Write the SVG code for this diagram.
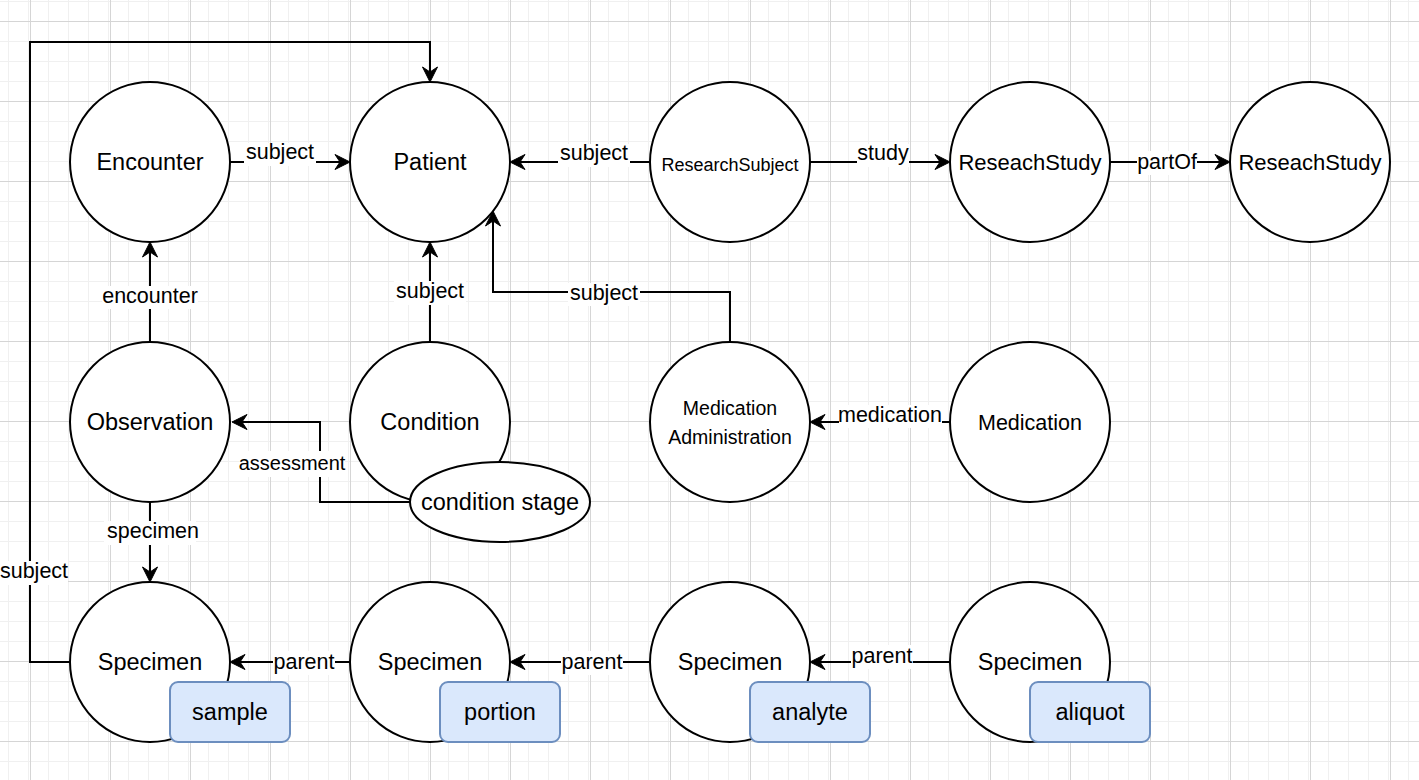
<svg xmlns="http://www.w3.org/2000/svg" width="1419" height="780" viewBox="0 0 1419 780">
  <style>
    .node { fill: #ffffff; stroke: #000000; stroke-width: 2; }
    .badge { fill: #dae8fc; stroke: #6c8ebf; stroke-width: 2; }
    .edge { fill: none; stroke: #000000; stroke-width: 2; marker-end: url(#arrow); }
    .lbl { font-family: "Liberation Sans", Arial, Helvetica, sans-serif; fill: #000000; text-anchor: middle; }
    .nl { font-size: 23.5px; }
    .el { font-size: 21.5px; }
    .bg { fill: #ffffff; }
  </style>
  <defs>
    <pattern id="minor" x="8" y="1" width="20" height="20" patternUnits="userSpaceOnUse">
      <rect x="0" y="0" width="1" height="20" fill="#f0f0f0"/>
      <rect x="0" y="0" width="20" height="1" fill="#f0f0f0"/>
    </pattern>
    <pattern id="major" x="30" y="21" width="80" height="80" patternUnits="userSpaceOnUse">
      <rect x="0" y="0" width="1" height="80" fill="#d5d5d5"/>
      <rect x="0" y="0" width="80" height="1" fill="#d5d5d5"/>
    </pattern>
    <marker id="arrow" viewBox="-16 -9 18 18" refX="-10" refY="0" markerWidth="18" markerHeight="18" markerUnits="userSpaceOnUse" orient="auto">
      <path d="M0,0 L-15,-7.5 L-10,0 L-15,7.5 Z" fill="#000000" stroke="#000000" stroke-width="1" stroke-linejoin="miter"/>
    </marker>
  </defs>

  <rect x="0" y="0" width="1419" height="780" fill="#ffffff"/>
  <rect x="0" y="0" width="1419" height="780" fill="url(#minor)"/>
  <rect x="0" y="0" width="1419" height="780" fill="url(#major)"/>

  <g id="connectors">
    <path class="edge" d="M230,162 H340"/>
    <path class="edge" d="M650,162 H520"/>
    <path class="edge" d="M810,162 H940"/>
    <path class="edge" d="M1110,162 H1220"/>
    <path class="edge" d="M150,342 V252"/>
    <path class="edge" d="M430,342 V252"/>
    <path class="edge" d="M730,342 V292 H493 V221"/>
    <path class="edge" d="M950,422 H820"/>
    <path class="edge" d="M410,502 H320 V422 H242"/>
    <path class="edge" d="M150,502 V572"/>
    <path class="edge" d="M70,662 H30 V42 H430 V72"/>
    <path class="edge" d="M350,662 H240"/>
    <path class="edge" d="M650,662 H520"/>
    <path class="edge" d="M950,662 H820"/>

    <rect class="bg" x="244" y="143" width="72" height="23"/>
    <text class="lbl el" x="280" y="159">subject</text>
    <rect class="bg" x="558" y="144" width="72" height="23"/>
    <text class="lbl el" x="594" y="160">subject</text>
    <rect class="bg" x="857" y="144" width="52" height="23"/>
    <text class="lbl el" x="883" y="160">study</text>
    <rect class="bg" x="1137" y="151" width="60" height="24"/>
    <text class="lbl el" x="1167" y="169">partOf</text>
    <rect class="bg" x="102" y="286" width="96" height="23"/>
    <text class="lbl el" x="150" y="303">encounter</text>
    <rect class="bg" x="394" y="281" width="72" height="24"/>
    <text class="lbl el" x="430" y="298">subject</text>
    <rect class="bg" x="568" y="283" width="72" height="23"/>
    <text class="lbl el" x="604" y="300">subject</text>
    <rect class="bg" x="839" y="405" width="103" height="23"/>
    <text class="lbl el" x="890" y="422">medication</text>
    <rect class="bg" x="239" y="451" width="106" height="26"/>
    <text class="lbl" style="font-size:20px" x="292" y="470">assessment</text>
    <rect class="bg" x="104" y="521" width="92" height="24"/>
    <text class="lbl el" x="153" y="538">specimen</text>
    <rect class="bg" x="0" y="561" width="68" height="24"/>
    <text class="lbl el" x="34" y="578">subject</text>
    <rect class="bg" x="273" y="651" width="62" height="24"/>
    <text class="lbl el" x="304" y="669">parent</text>
    <rect class="bg" x="561" y="651" width="62" height="24"/>
    <text class="lbl el" x="592" y="669">parent</text>
    <rect class="bg" x="851" y="645" width="62" height="24"/>
    <text class="lbl el" x="882" y="663">parent</text>
  </g>

  <g id="encounter">
    <circle class="node" cx="150" cy="162" r="80"/>
    <text class="lbl nl" x="150" y="170">Encounter</text>
  </g>
  <g id="patient">
    <circle class="node" cx="430" cy="162" r="80"/>
    <text class="lbl nl" x="430" y="170">Patient</text>
  </g>
  <g id="research-subject">
    <circle class="node" cx="730" cy="162" r="80"/>
    <text class="lbl" style="font-size:18px" x="730" y="171">ResearchSubject</text>
  </g>
  <g id="research-study-1">
    <circle class="node" cx="1030" cy="162" r="80"/>
    <text class="lbl" style="font-size:22px" x="1030" y="170">ReseachStudy</text>
  </g>
  <g id="research-study-2">
    <circle class="node" cx="1310" cy="162" r="80"/>
    <text class="lbl" style="font-size:22px" x="1310" y="170">ReseachStudy</text>
  </g>
  <g id="observation">
    <circle class="node" cx="150" cy="422" r="80"/>
    <text class="lbl nl" x="150" y="430">Observation</text>
  </g>
  <g id="condition">
    <circle class="node" cx="430" cy="422" r="80"/>
    <text class="lbl nl" x="430" y="430">Condition</text>
  </g>
  <g id="condition-stage">
    <ellipse class="node" cx="500" cy="502" rx="90" ry="40"/>
    <text class="lbl nl" x="500" y="510">condition stage</text>
  </g>
  <g id="medication-administration">
    <circle class="node" cx="730" cy="422" r="80"/>
    <text class="lbl" style="font-size:19.5px" x="730" y="415">Medication</text>
    <text class="lbl" style="font-size:19.5px" x="730" y="444">Administration</text>
  </g>
  <g id="medication">
    <circle class="node" cx="1030" cy="422" r="80"/>
    <text class="lbl" style="font-size:21.5px" x="1030" y="430">Medication</text>
  </g>
  <g id="specimen-sample">
    <circle class="node" cx="150" cy="662" r="80"/>
    <text class="lbl nl" x="150" y="670">Specimen</text>
    <rect class="badge" x="170" y="682" width="120" height="60" rx="8" ry="8"/>
    <text class="lbl nl" x="230" y="720">sample</text>
  </g>
  <g id="specimen-portion">
    <circle class="node" cx="430" cy="662" r="80"/>
    <text class="lbl nl" x="430" y="670">Specimen</text>
    <rect class="badge" x="440" y="682" width="120" height="60" rx="8" ry="8"/>
    <text class="lbl nl" x="500" y="720">portion</text>
  </g>
  <g id="specimen-analyte">
    <circle class="node" cx="730" cy="662" r="80"/>
    <text class="lbl nl" x="730" y="670">Specimen</text>
    <rect class="badge" x="750" y="682" width="120" height="60" rx="8" ry="8"/>
    <text class="lbl nl" x="810" y="720">analyte</text>
  </g>
  <g id="specimen-aliquot">
    <circle class="node" cx="1030" cy="662" r="80"/>
    <text class="lbl nl" x="1030" y="670">Specimen</text>
    <rect class="badge" x="1030" y="682" width="120" height="60" rx="8" ry="8"/>
    <text class="lbl nl" x="1090" y="720">aliquot</text>
  </g>
</svg>
